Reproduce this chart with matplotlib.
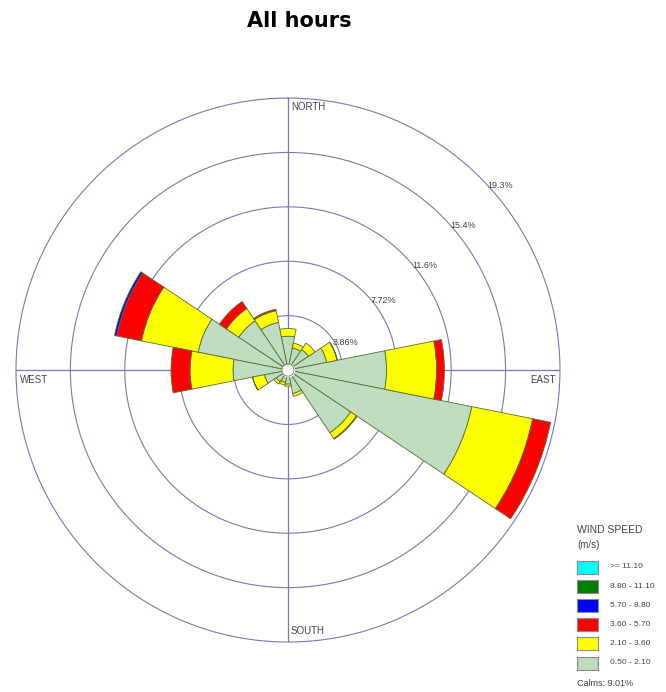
import matplotlib
matplotlib.use('Agg')
import matplotlib.pyplot as plt
import numpy as np
from matplotlib.patches import Rectangle

# Rose des vents "All hours" : 16 secteurs, fréquences en % par classe de vitesse

directions = ['N', 'NNE', 'NE', 'ENE', 'E', 'ESE', 'SE', 'SSE',
              'S', 'SSW', 'SW', 'WSW', 'W', 'WNW', 'NW', 'NNW']

# fréquences (%) pour chaque classe de vitesse, dans l'ordre des directions
v_050_210 = [2.4, 1.6, 1.75, 2.8, 7.0, 13.3, 5.35, 1.7, 1.0, 0.9, 1.0, 1.7, 3.9, 6.5, 4.2, 3.45]
v_210_360 = [0.55, 0.35, 0.55, 0.75, 3.55, 4.4, 0.5, 0.2, 0.15, 0.2, 0.2, 0.85, 3.05, 4.1, 1.05, 0.85]
v_360_570 = [0, 0, 0, 0.02, 0.55, 1.3, 0.05, 0, 0, 0, 0, 0.02, 1.35, 1.8, 0.6, 0.1]
v_570_880 = [0, 0, 0, 0, 0, 0, 0, 0, 0, 0, 0, 0, 0, 0.15, 0, 0]
v_880_1110 = [0] * 16
v_1110_plus = [0] * 16

classes = ['>= 11.10', '8.80 - 11.10', '5.70 - 8.80', '3.60 - 5.70', '2.10 - 3.60', '0.50 - 2.10']
couleurs = ['#00ffff', '#007f00', '#0000ff', '#ff0000', '#ffff00', '#bedcbe']
calmes = 9.01

anneaux = [3.86, 7.72, 11.58, 15.44, 19.3]
labels_anneaux = ['3.86%', '7.72%', '11.6%', '15.4%', '19.3%']

grille = '#7878bb'
texte = '#444444'

fig = plt.figure(figsize=(6.66, 6.92), dpi=100)
fig.text(0.45, 1 - 21 / 692, 'All hours', ha='center', va='center',
         fontsize=15, fontweight='bold', family='DejaVu Sans')

# axes polaires : nord en haut, sens horaire
ax = fig.add_axes([0.0240, 0.0722, 0.8168, 0.7861], projection='polar')
ax.set_theta_zero_location('N')
ax.set_theta_direction(-1)
ax.set_rlim(0, anneaux[-1])
ax.set_xticks([])
ax.set_yticks([])
ax.grid(False)
ax.spines['polar'].set_color(grille)
ax.spines['polar'].set_linewidth(0.8)

# cercles de la grille
t = np.linspace(0, 2 * np.pi, 400)
for r in anneaux[:-1]:
    ax.plot(t, [r] * len(t), color=grille, lw=0.8, zorder=1)
# axes N-S et E-O
for a in [0, 90, 180, 270]:
    ax.plot([np.radians(a)] * 2, [0, anneaux[-1]], color=grille, lw=0.9, zorder=1)

# empilement des barres, de la classe la plus faible à la plus forte
theta = np.radians(np.arange(16) * 22.5)
largeur = np.radians(22.5)
series = [v_050_210, v_210_360, v_360_570, v_570_880, v_880_1110, v_1110_plus]
cols = couleurs[::-1]
base = np.zeros(16)
for serie, c in zip(series, cols):
    h = np.array(serie, dtype=float)
    m = h > 0
    ax.bar(theta[m], h[m], width=largeur, bottom=base[m], color=c,
           edgecolor='#5b6b35', linewidth=0.6, zorder=3)
    base = base + h

# petit cercle central (calmes)
ax.fill_between(t, 0, 0.43, color='white', zorder=5)
ax.plot(t, [0.43] * len(t), color='#7d8a6a', lw=0.7, zorder=6)

# étiquettes des anneaux
angles_labels = [64, 54, 52.5, 50.5, 49]
for r, lab, a in zip(anneaux, labels_anneaux, angles_labels):
    ax.text(np.radians(a), r + 0.65, lab, ha='center', va='center',
            fontsize=6.5, color=texte, family='Liberation Sans', zorder=7)

# calque en pixels pour les points cardinaux et la légende
ov = fig.add_axes([0, 0, 1, 1])
ov.set_xlim(0, 666)
ov.set_ylim(692, 0)
ov.axis('off')
ov.patch.set_visible(False)

police = dict(family='Liberation Sans', color=texte)
ov.text(291, 107, 'NORTH', ha='left', va='center', fontsize=7, **police)
ov.text(556, 380, 'EAST', ha='right', va='center', fontsize=7, **police)
ov.text(20, 380, 'WEST', ha='left', va='center', fontsize=7, **police)
ov.text(291, 631, 'SOUTH', ha='left', va='center', fontsize=7, **police)

ov.text(577, 530, 'WIND SPEED', ha='left', va='center', fontsize=7.5, **police)
ov.text(577, 545, '(m/s)', ha='left', va='center', fontsize=7, **police)
for i, (lab, c) in enumerate(zip(classes, couleurs)):
    y = 567 + 19.2 * i
    ov.add_patch(Rectangle((577, y - 6.5), 21, 13, facecolor=c,
                           edgecolor='#8a8a8a', linewidth=0.8))
    ov.text(610, y, lab, ha='left', va='center', fontsize=6, **police)
ov.text(577, 683, 'Calms: %.2f%%' % calmes, ha='left', va='center', fontsize=6.5, **police)

fig.savefig('out.png', dpi=100)
